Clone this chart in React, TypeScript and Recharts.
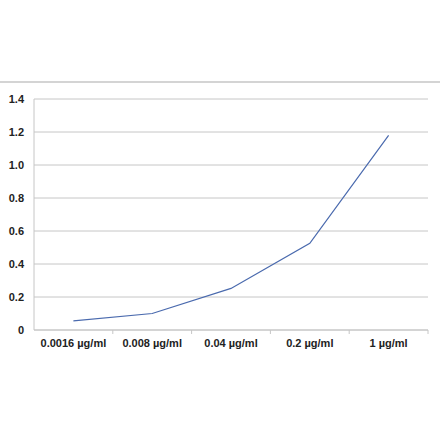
import { LineChart, Line, XAxis, YAxis, CartesianGrid } from "recharts";

const doses = ["0.0016 µg/ml", "0.008 µg/ml", "0.04 µg/ml", "0.2 µg/ml", "1 µg/ml"];
const signal = [0.055, 0.1, 0.252, 0.525, 1.18];
const yTicks = [0, 0.2, 0.4, 0.6, 0.8, 1.0, 1.2, 1.4];

const data = doses.map((dose, i) => ({ dose, value: signal[i] }));

const GRID = "#c6c6c6";
const FONT = "'Liberation Sans', Arial, sans-serif";

function DoseTick(props: any) {
  const { x, y, payload } = props;
  const half = payload?.offset ?? 0;
  return (
    <g>
      <line x1={x + half} x2={x + half} y1={y - 8} y2={y - 4} stroke={GRID} />
      <text
        x={x}
        y={y + 9}
        textAnchor="middle"
        fontFamily={FONT}
        fontSize={11}
        fontWeight="bold"
        fill="#222"
      >
        {payload.value}
      </text>
    </g>
  );
}

export default function App() {
  return (
    <div style={{ position: "absolute", left: 0, top: 0, width: 440, height: 441, background: "#fff" }}>
      <div style={{ position: "absolute", left: 0, top: 81, width: 440, height: 2, background: "#d4d4d4" }} />
      <LineChart
        width={440}
        height={441}
        data={data}
        margin={{ top: 99, right: 12, left: 0, bottom: 81 }}
      >
        <CartesianGrid vertical={false} stroke={GRID} strokeWidth={1} />
        <XAxis
          dataKey="dose"
          scale="band"
          stroke={GRID}
          tickLine={false}
          tick={<DoseTick />}
          interval={0}
          height={30}
        />
        <YAxis
          domain={[0, 1.4]}
          ticks={yTicks}
          width={34}
          stroke={GRID}
          tickLine={false}
          tickMargin={4}
          interval={0}
          tickFormatter={(v: number) => (v === 0 ? "0" : v.toFixed(1))}
          tick={{ fontFamily: FONT, fontSize: 11, fontWeight: "bold", fill: "#222" }}
        />
        <Line
          type="linear"
          dataKey="value"
          stroke="#4a6aae"
          strokeWidth={1.2}
          dot={false}
          isAnimationActive={false}
        />
      </LineChart>
    </div>
  );
}
